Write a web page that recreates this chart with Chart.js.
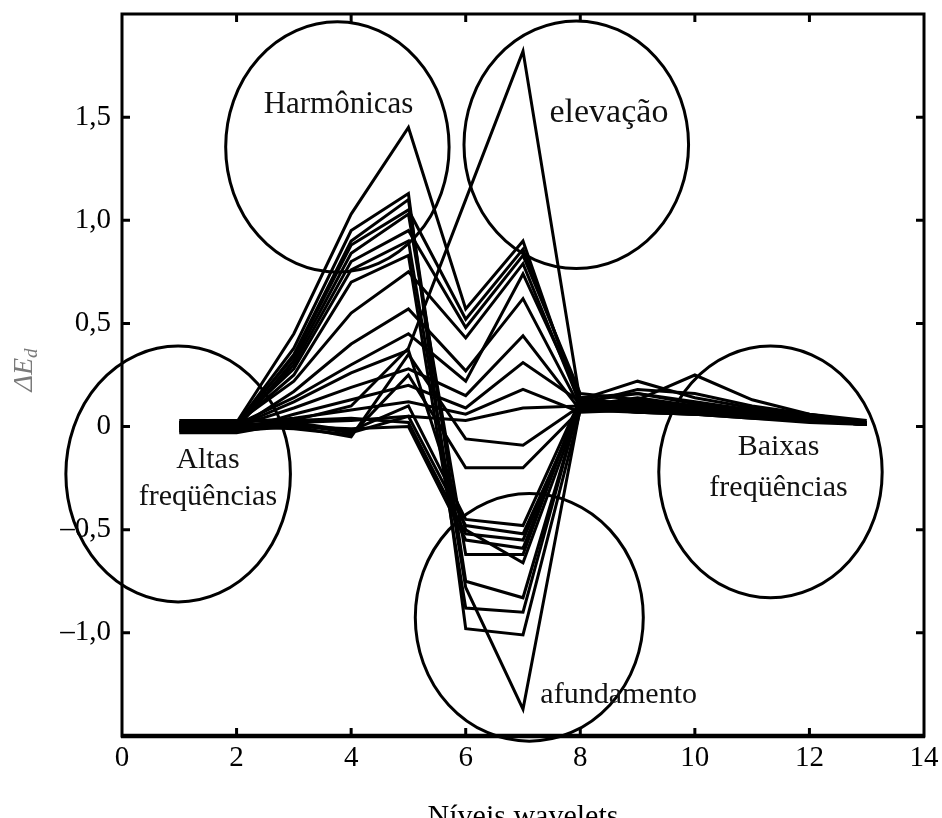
<!DOCTYPE html>
<html>
<head>
<meta charset="utf-8">
<title>ΔEd por nível wavelet</title>
<script src="https://cdn.jsdelivr.net/npm/chart.js@4.4.1/dist/chart.umd.min.js"></script>
<style>
  html, body { margin: 0; padding: 0; background: #fff; overflow: hidden; }
  #wrap { width: 942px; height: 818px; }
</style>
</head>
<body>
<div id="wrap"><canvas id="chart-wavelet" width="942" height="818"></canvas></div>
<script>
// Wavelet decomposition levels (x) and the tick values shown on each axis
const levels = [1, 2, 3, 4, 5, 6, 7, 8, 9, 10, 11, 12, 13];
const xTicks = [0, 2, 4, 6, 8, 10, 12, 14];
const yTicks = [-1.0, -0.5, 0, 0.5, 1.0, 1.5];

// ΔEd per level (one row = one disturbance signal)
const swellSeries = [
    [0.00, 0.00, 0.03, 0.10, 0.38, 1.10, 1.82, 0.12, 0.16, 0.12, 0.08, 0.05, 0.02]
];
const humpSeries = [
    [0.02, 0.02, 0.45, 1.03, 1.45, 0.57, 0.90, 0.10, 0.14, 0.10, 0.07, 0.04, 0.02],
    [0.01, 0.01, 0.34, 0.88, 1.05, 0.52, 0.86, 0.13, 0.22, 0.14, 0.09, 0.05, 0.02],
    [0.00, 0.00, 0.30, 0.80, 0.95, 0.48, 0.83, 0.16, 0.13, 0.25, 0.13, 0.06, 0.02],
    [0.02, 0.02, 0.22, 0.55, 0.75, 0.43, 0.79, 0.11, 0.18, 0.16, 0.10, 0.06, 0.03],
    [-0.01, -0.01, 0.17, 0.40, 0.57, 0.27, 0.62, 0.09, 0.12, 0.09, 0.07, 0.04, 0.02],
    [0.01, 0.01, 0.14, 0.30, 0.45, 0.22, 0.74, 0.14, 0.10, 0.08, 0.06, 0.04, 0.01],
    [0.00, 0.00, 0.09, 0.19, 0.28, 0.15, 0.44, 0.08, 0.11, 0.09, 0.06, 0.03, 0.01],
    [-0.02, -0.02, 0.06, 0.13, 0.20, 0.09, 0.31, 0.12, 0.09, 0.07, 0.05, 0.03, 0.01],
    [0.02, 0.02, 0.04, 0.08, 0.12, 0.06, 0.18, 0.07, 0.08, 0.06, 0.05, 0.03, 0.02],
    [0.01, 0.01, 0.02, 0.03, 0.05, 0.03, 0.09, 0.10, 0.07, 0.06, 0.04, 0.02, 0.01]
];
const sagSeries = [
    [0.01, 0.01, 0.38, 0.95, 1.13, -0.98, -1.01, 0.08, 0.12, 0.10, 0.07, 0.04, 0.02],
    [0.00, 0.00, 0.35, 0.90, 1.10, -0.75, -0.83, 0.11, 0.09, 0.08, 0.06, 0.04, 0.02],
    [-0.01, -0.01, 0.32, 0.84, 1.03, -0.62, -0.62, 0.14, 0.16, 0.11, 0.08, 0.05, 0.02],
    [0.02, 0.02, 0.28, 0.76, 0.90, -0.78, -1.37, 0.09, 0.13, 0.10, 0.07, 0.04, 0.02],
    [0.01, 0.01, 0.25, 0.70, 0.83, -0.88, -0.90, 0.12, 0.10, 0.09, 0.06, 0.04, 0.02],
    [0.00, 0.00, 0.12, 0.26, 0.37, -0.50, -0.66, 0.10, 0.08, 0.07, 0.05, 0.03, 0.01],
    [-0.03, -0.03, 0.02, -0.02, 0.10, -0.45, -0.48, 0.13, 0.11, 0.09, 0.06, 0.04, 0.02],
    [0.00, 0.00, 0.01, -0.03, 0.05, -0.48, -0.52, 0.09, 0.07, 0.06, 0.05, 0.03, 0.01],
    [0.03, 0.03, 0.03, 0.04, 0.02, -0.52, -0.55, 0.11, 0.09, 0.07, 0.05, 0.03, 0.02],
    [-0.01, -0.01, 0.00, -0.01, 0.00, -0.55, -0.59, 0.12, 0.10, 0.08, 0.06, 0.04, 0.02]
];
const flatSeries = [
    [-0.02, -0.02, 0.00, -0.05, 0.35, -0.06, -0.09, 0.10, 0.08, 0.07, 0.05, 0.03, 0.01],
    [0.00, 0.00, -0.01, -0.04, 0.25, -0.20, -0.20, 0.08, 0.07, 0.06, 0.04, 0.03, 0.01]
];

// Circled regions (data units) and their captions
const regions = [
    { cx: 0.98, cy: -0.23, rx: 1.96, ry: 0.62, lines: ['Altas', 'freqüências'], tx: 1.5, ty: [-0.165, -0.34], size: 30 },
    { cx: 3.76, cy: 1.355, rx: 1.95, ry: 0.607, lines: ['Harmônicas'], tx: 3.78, ty: [1.56], size: 31 },
    { cx: 7.93, cy: 1.366, rx: 1.96, ry: 0.60, lines: ['elevação'], tx: 8.5, ty: [1.52], size: 34 },
    { cx: 7.11, cy: -0.925, rx: 1.99, ry: 0.60, lines: ['afundamento'], tx: 8.67, ty: [-1.30], size: 30 },
    { cx: 11.32, cy: -0.22, rx: 1.95, ry: 0.61, lines: ['Baixas', 'freqüências'], tx: 11.46, ty: [-0.10, -0.30], size: 30 }
];

const serif = "'Liberation Serif', 'Times New Roman', 'DejaVu Serif', serif";

function fmtDecimal(v) {
    if (v === 0) return '0';
    const s = Math.abs(v).toFixed(1).replace('.', ',');
    return v < 0 ? '\u2013' + s : s;
}

// frame, inward ticks, circled regions and axis titles
const figurePlugin = {
    id: 'figure',
    afterDraw(chart) {
        const { ctx, chartArea: a, scales: { x, y } } = chart;
        ctx.save();
        ctx.strokeStyle = '#000';
        ctx.lineCap = 'butt';

        // frame
        ctx.lineWidth = 3;
        ctx.strokeRect(a.left, a.top, a.right - a.left, a.bottom - a.top);
        ctx.lineWidth = 4.5;
        ctx.beginPath();
        ctx.moveTo(a.left - 1, a.bottom);
        ctx.lineTo(a.right + 1, a.bottom);
        ctx.stroke();

        // inward tick marks on all four sides
        ctx.lineWidth = 3;
        const tl = 8;
        xTicks.slice(1, -1).forEach(v => {
            const px = x.getPixelForValue(v);
            ctx.beginPath();
            ctx.moveTo(px, a.bottom); ctx.lineTo(px, a.bottom - tl);
            ctx.moveTo(px, a.top); ctx.lineTo(px, a.top + tl);
            ctx.stroke();
        });
        yTicks.forEach(v => {
            const py = y.getPixelForValue(v);
            ctx.beginPath();
            ctx.moveTo(a.left, py); ctx.lineTo(a.left + tl, py);
            ctx.moveTo(a.right, py); ctx.lineTo(a.right - tl, py);
            ctx.stroke();
        });

        // circled regions
        ctx.lineWidth = 3;
        ctx.fillStyle = '#111';
        ctx.textAlign = 'center';
        ctx.textBaseline = 'middle';
        regions.forEach(r => {
            const cx = x.getPixelForValue(r.cx);
            const cy = y.getPixelForValue(r.cy);
            const rx = x.getPixelForValue(r.cx + r.rx) - cx;
            const ry = cy - y.getPixelForValue(r.cy + r.ry);
            ctx.beginPath();
            ctx.ellipse(cx, cy, rx, ry, 0, 0, Math.PI * 2);
            ctx.stroke();
            ctx.font = r.size + 'px ' + serif;
            r.lines.forEach((t, i) => {
                ctx.fillText(t, x.getPixelForValue(r.tx), y.getPixelForValue(r.ty[i]));
            });
        });

        // x axis title (partly below the page edge, as in the scan)
        ctx.font = '30px ' + serif;
        ctx.textBaseline = 'alphabetic';
        ctx.fillStyle = '#000';
        ctx.fillText('Níveis wavelets', (a.left + a.right) / 2, 825);

        // y axis title ΔE with subscript d
        ctx.translate(32, 370);
        ctx.rotate(-Math.PI / 2);
        ctx.fillStyle = '#7a7a7a';
        ctx.font = 'italic 28px ' + serif;
        const wMain = ctx.measureText('ΔE').width;
        ctx.font = 'italic 19px ' + serif;
        const wSub = ctx.measureText('d').width;
        const x0 = -(wMain + wSub) / 2;
        ctx.textAlign = 'left';
        ctx.font = 'italic 28px ' + serif;
        ctx.fillText('ΔE', x0, 0);
        ctx.font = 'italic 19px ' + serif;
        ctx.fillText('d', x0 + wMain, 5);
        ctx.restore();
    }
};

const allSeries = [...swellSeries, ...humpSeries, ...sagSeries, ...flatSeries];
const datasets = allSeries.map((vals, i) => ({
    label: 'sinal ' + (i + 1),
    data: vals.map((v, j) => ({ x: levels[j], y: v })),
    borderColor: '#000',
    borderWidth: 3,
    pointRadius: 0,
    tension: 0,
    fill: false
}));

// keep the plot frame where the scan has it: no extra label padding
function noPadding(s) {
    s.paddingTop = 0;
    s.paddingBottom = 0;
    s.paddingLeft = 0;
    s.paddingRight = 0;
}

new Chart(document.getElementById('chart-wavelet'), {
    type: 'line',
    data: { datasets },
    options: {
        responsive: false,
        animation: false,
        layout: { padding: { left: 0, right: 18, top: 14, bottom: 0 } },
        plugins: {
            legend: { display: false },
            tooltip: { enabled: false }
        },
        scales: {
            x: {
                type: 'linear',
                min: 0,
                max: 14,
                afterBuildTicks: (s) => { s.ticks = xTicks.map(v => ({ value: v })); },
                afterFit: (s) => { s.height = 82; noPadding(s); },
                grid: { display: false, drawTicks: false },
                border: { display: false },
                ticks: {
                    color: '#000',
                    padding: 5,
                    maxRotation: 0,
                    font: { family: serif, size: 29 },
                    callback: (v) => String(v)
                }
            },
            y: {
                type: 'linear',
                min: -1.5,
                max: 2.0,
                afterBuildTicks: (s) => { s.ticks = yTicks.map(v => ({ value: v })); },
                afterFit: (s) => { s.width = 122; noPadding(s); },
                grid: { display: false, drawTicks: false },
                border: { display: false },
                ticks: {
                    color: '#000',
                    padding: 11,
                    font: { family: serif, size: 29 },
                    callback: (v) => fmtDecimal(v)
                }
            }
        }
    },
    plugins: [figurePlugin]
});
</script>
</body>
</html>
